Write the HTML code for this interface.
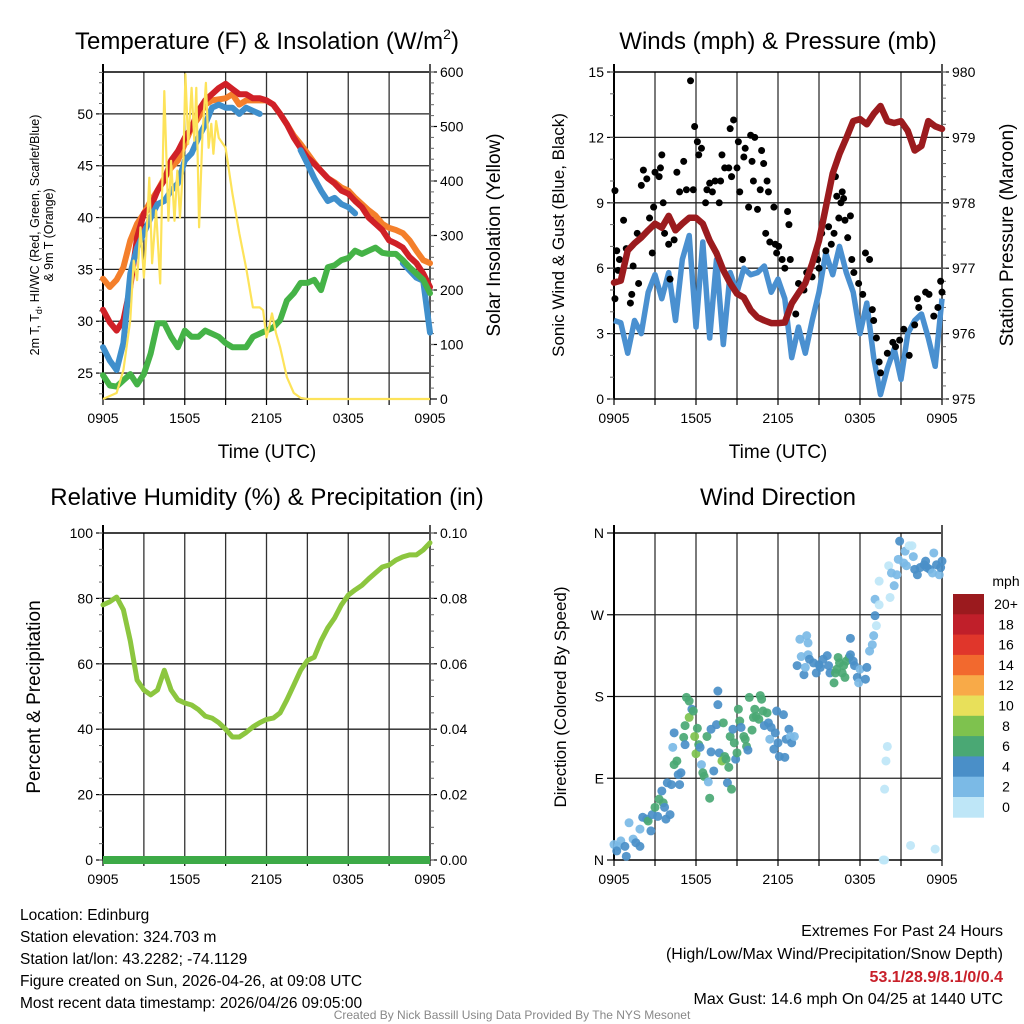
<!DOCTYPE html>
<html><head><meta charset="utf-8">
<style>
html,body{margin:0;padding:0;background:#fff;}
svg{display:block;font-family:"Liberation Sans",Arial,sans-serif;}
</style></head>
<body>
<svg id="chart" width="1024" height="1024" viewBox="0 0 1024 1024" xmlns="http://www.w3.org/2000/svg">
<rect x="0" y="0" width="1024" height="1024" fill="#fff"/>
<g id="layer"></g>
<!-- titles -->
<text x="267" y="49" font-size="24" text-anchor="middle">Temperature (F) &amp; Insolation (W/m<tspan font-size="14" dy="-10">2</tspan><tspan dy="10">)</tspan></text>
<text x="778" y="49" font-size="24" text-anchor="middle">Winds (mph) &amp; Pressure (mb)</text>
<text x="267" y="505" font-size="24" text-anchor="middle">Relative Humidity (%) &amp; Precipitation (in)</text>
<text x="778" y="505" font-size="24" text-anchor="middle">Wind Direction</text>
<!-- axis titles -->
<text x="267" y="458" font-size="19" text-anchor="middle">Time (UTC)</text>
<text x="778" y="458" font-size="19" text-anchor="middle">Time (UTC)</text>
<text transform="translate(39,235) rotate(-90)" font-size="12.5" text-anchor="middle">2m T, T<tspan font-size="9" dy="3">d</tspan><tspan dy="-3">, HI/WC (Red, Green, Scarlet/Blue)</tspan></text>
<text transform="translate(53,235) rotate(-90)" font-size="12.5" text-anchor="middle">&amp; 9m T (Orange)</text>
<text transform="translate(500,235) rotate(-90)" font-size="19" text-anchor="middle">Solar Insolation (Yellow)</text>
<text transform="translate(564,235) rotate(-90)" font-size="17" text-anchor="middle">Sonic Wind &amp; Gust (Blue, Black)</text>
<text transform="translate(1013,235) rotate(-90)" font-size="19" text-anchor="middle">Station Pressure (Maroon)</text>
<text transform="translate(40,697) rotate(-90)" font-size="19" text-anchor="middle">Percent &amp; Precipitation</text>
<text transform="translate(566,697) rotate(-90)" font-size="17" text-anchor="middle">Direction (Colored By Speed)</text>
<!-- footer text -->
<g font-size="15.5">
<text x="20" y="920">Location: Edinburg</text>
<text x="20" y="942">Station elevation: 324.703 m</text>
<text x="20" y="964">Station lat/lon: 43.2282; -74.1129</text>
<text x="20" y="986">Figure created on Sun, 2026-04-26, at 09:08 UTC</text>
<text x="20" y="1008">Most recent data timestamp: 2026/04/26 09:05:00</text>
</g>
<g font-size="16" text-anchor="end">
<text x="1003" y="936">Extremes For Past 24 Hours</text>
<text x="1003" y="959">(High/Low/Max Wind/Precipitation/Snow Depth)</text>
<text x="1003" y="982" fill="#c8202a" font-weight="bold">53.1/28.9/8.1/0/0.4</text>
<text x="1003" y="1004">Max Gust: 14.6 mph On 04/25 at 1440 UTC</text>
</g>
<text x="512" y="1019" font-size="12" fill="#888" text-anchor="middle">Created By Nick Bassill Using Data Provided By The NYS Mesonet</text>
</svg>
<script>
// ---- data (half-hourly from 0905 UTC) ----
const timeLabels = ["0905","1505","2105","0305","0905"];
const tempTicks = [25,30,35,40,45,50];
const solarTicks = [0,100,200,300,400,500,600];
const windTicks = [0,3,6,9,12,15];
const presTicks = [975,976,977,978,979,980];
const rhTicks = [0,20,40,60,80,100];
const precipTicks = ["0.00","0.02","0.04","0.06","0.08","0.10"];
const dirTicks = ["N","E","S","W","N"];
const speedLabels = ["20+","18","16","14","12","10","8","6","4","2","0"];

const temp2m = [31.1,29.9,29.1,30.1,33.3,38.1,40.4,41.0,42.6,43.6,45.5,46.4,47.7,48.7,50.3,51.3,51.9,52.5,52.9,52.4,51.9,51.9,51.5,51.5,51.3,50.9,50.0,49.0,47.7,46.7,45.8,45.2,44.5,43.8,43.3,42.6,42.3,41.6,41.0,40.0,39.4,38.8,37.8,37.5,37.1,36.2,35.6,34.6,33.3];
const temp9m = [34.1,33.3,34.0,35.2,37.8,39.4,40.4,41.6,42.6,43.8,44.8,45.5,47.1,48.7,49.6,50.9,51.3,51.4,51.5,51.9,50.9,51.3,51.3,51.3,51.3,50.9,50.0,49.0,47.9,47.1,46.2,45.3,44.5,43.8,43.4,42.9,42.6,41.9,41.3,40.7,40.2,39.4,39.0,38.8,38.5,37.8,36.8,35.9,35.6];
const windChill = [27.5,26.2,25.3,27.9,34.6,37.1,38.5,40.0,41.3,41.6,42.6,43.3,45.5,46.2,47.7,49.0,50.6,50.9,50.6,50.6,50.0,50.6,50.3,50.0,null,null,null,null,null,46.5,45.2,43.8,42.6,41.6,41.9,41.3,41.0,40.4,null,null,null,null,null,null,35.6,34.9,34.2,33.9,28.9];
const dewPoint = [24.8,23.8,23.7,24.3,24.9,23.9,24.9,26.9,29.8,29.8,28.5,27.5,29.1,28.5,28.5,29.1,28.8,28.5,27.9,27.5,27.5,27.5,28.5,28.8,29.1,29.4,30.1,32.0,32.7,33.7,33.7,34.0,33.0,35.2,35.4,35.9,36.1,36.8,36.5,36.8,37.1,36.6,36.5,36.5,35.9,35.2,34.6,34.0,32.7];
const solarHours = [0,1,1.5,2,2.25,2.5,2.75,3,3.25,3.4,3.6,3.9,4.2,4.5,4.8,5.0,5.25,5.45,5.65,5.9,6.05,6.25,6.5,6.7,6.85,7.05,7.3,7.55,7.75,7.95,8.1,8.3,8.5,9,9.5,10,10.5,11,11.5,11.75,12,12.2,12.4,12.7,13,13.5,14,14.5,15,24];
const solarVals = [0,11,53,145,254,218,315,223,327,406,249,346,212,565,327,437,327,419,333,437,596,468,571,474,571,315,487,580,461,505,450,510,479,461,377,304,241,168,168,163,113,132,157,121,95,40,11,2,0,0];
const windSpeed = [3.6,3.5,2.1,3.6,3.0,4.9,5.7,4.6,5.8,3.6,6.4,7.5,3.3,7.2,2.8,6.4,2.5,5.8,4.9,6.0,5.7,5.8,6.1,4.9,5.5,4.6,1.9,3.3,2.1,3.6,4.9,6.7,5.7,7.0,5.8,4.9,3.0,4.4,1.9,0.2,1.4,2.3,0.9,3.0,3.6,3.9,2.8,1.5,4.6];
const pressure = [976.78,976.81,977.27,977.38,977.47,977.58,977.68,977.62,977.80,977.58,977.68,977.77,977.77,977.68,977.42,977.23,976.97,976.77,976.61,976.55,976.36,976.25,976.20,976.16,976.16,976.17,976.46,976.62,976.77,977.07,977.42,977.93,978.45,978.75,978.99,979.25,979.28,979.20,979.36,979.48,979.25,979.22,979.25,979.10,978.80,978.87,979.25,979.17,979.13];
const gustHours = [0.07,0.07,0.2,0.4,0.3,0.7,0.9,1.2,1.3,1.4,1.7,1.8,2.0,2.15,2.4,2.6,2.8,2.9,3.0,3.3,3.4,3.5,3.6,3.7,4.0,4.1,4.4,4.6,4.8,5.1,5.3,5.6,5.8,5.9,6.1,6.2,6.4,6.7,6.8,7.0,7.2,7.4,7.7,7.8,7.9,8.1,8.4,8.5,8.75,8.6,9.0,9.1,9.2,9.4,9.5,9.6,9.85,10.0,10.1,10.2,10.3,10.5,10.7,10.8,10.95,11.1,11.2,11.3,11.4,11.7,11.8,11.9,12.05,12.3,12.5,12.7,12.8,12.9,13.3,13.5,13.9,14.1,14.5,14.9,15.0,15.2,15.5,15.7,15.9,16.1,16.2,16.3,16.45,16.6,16.7,16.8,16.9,17.1,17.3,17.4,17.55,17.9,18.2,18.4,18.7,18.9,19.0,19.2,19.4,19.5,20.0,20.4,20.6,20.9,21.2,21.6,22.0,22.2,22.3,22.8,23.05,23.4,23.7,23.9,24.0];
const gustVals = [9.56,4.6,6.8,6.4,5.9,8.2,6.9,4.4,4.8,6.1,7.6,5.3,9.8,10.5,10.1,8.3,6.7,8.8,10.4,10.2,10.6,11.2,9.0,7.6,7.1,5.5,7.3,10.4,9.5,10.9,9.6,14.6,9.6,12.5,11.8,11.2,11.5,9.0,9.6,9.9,9.5,10.0,9.0,10.0,11.2,10.6,10.6,12.4,12.8,10.2,10.6,11.8,9.5,6.4,11.1,11.5,8.8,12.1,10.9,10.0,12.0,8.7,9.6,11.4,10.8,7.6,10.0,9.5,7.2,8.8,7.1,6.7,7.0,6.4,6.0,8.6,8.0,6.4,3.9,5.3,5.0,5.8,5.6,6.4,6.0,7.6,6.8,7.9,7.1,7.6,10.2,9.3,8.3,9.0,9.5,9.2,8.2,7.4,8.4,6.4,5.8,5.3,4.8,6.7,6.4,4.1,3.6,2.8,1.7,1.2,2.1,2.6,2.4,2.7,3.2,2.0,3.4,4.6,4.2,4.9,4.8,3.8,4.2,5.4,4.9];
const relHum = [78,79,80.4,76.5,67,55,52,50.5,52,58,52,49,48,47.4,46,44,43.4,42,40,37.6,37.6,39,40.7,42,43,43.4,45,49,53.5,58,61,62,67,71,74,78,81,82.6,84,86,87.8,89.6,90.2,91.7,92.7,93.3,93.3,94.8,97];
const precip = [0,0,0,0,0,0,0,0,0,0,0,0,0,0,0,0,0,0,0,0,0,0,0,0,0,0,0,0,0,0,0,0,0,0,0,0,0,0,0,0,0,0,0,0,0,0,0,0,0];
const dirHours = [0.0,0.3,0.5,0.8,0.9,0.2,1.1,1.4,1.6,1.9,1.9,2.1,2.4,2.5,2.7,2.8,3.0,3.2,3.3,3.5,3.6,3.7,3.8,3.9,4.1,4.2,4.4,4.6,4.7,4.8,4.9,4.3,4.4,5.2,5.1,5.2,5.3,5.5,5.7,5.5,5.8,5.9,6.0,6.1,6.2,6.3,6.4,6.5,6.6,6.8,6.9,7.0,7.1,7.1,7.3,7.5,7.6,7.6,7.7,8.0,8.1,7.9,8.2,8.4,8.3,8.6,8.5,8.7,8.8,8.9,9.0,9.1,9.2,9.3,9.5,9.6,9.7,9.8,9.9,10.1,10.2,10.3,10.4,10.6,10.7,10.8,10.9,11.0,11.2,11.3,11.4,11.5,11.7,11.8,11.9,12.0,12.1,12.4,12.5,12.6,12.8,12.9,13.0,13.2,13.4,13.6,13.7,13.9,14.0,14.1,14.2,14.2,14.3,14.6,14.8,15.0,15.1,15.3,15.6,15.7,15.8,16.1,16.2,16.3,16.4,16.5,16.7,16.8,16.9,17.0,17.2,17.3,17.3,17.5,17.6,17.8,17.9,18.0,18.4,18.5,18.7,18.9,19.0,19.1,19.2,19.1,19.4,19.4,20.2,20.1,20.3,20.5,20.7,20.8,20.9,21.2,21.3,21.4,21.6,21.8,21.9,22.0,22.2,22.4,22.7,22.8,22.9,23.1,23.3,23.4,23.6,23.8,23.9,24.0,20.0,19.9,19.8,21.7,23.5,19.7,19.8];
const dirDeg = [17,15,21,15,4,10,41,23,19,15,34,47,45,43,32,50,58,48,67,76,63,58,45,85,50,83,105,109,94,83,96,124,140,148,135,127,179,175,166,157,164,136,117,145,127,124,105,96,92,136,86,68,144,119,98,149,186,171,118,151,114,109,111,102,85,78,136,144,129,111,118,166,153,146,136,133,125,121,179,143,157,166,158,155,181,177,164,148,162,151,133,146,122,140,164,129,114,160,113,133,144,136,129,136,214,243,224,204,212,247,239,226,221,217,206,215,212,221,225,214,206,195,206,210,223,217,206,214,201,219,223,226,244,219,214,201,195,210,199,212,230,237,247,269,258,287,281,307,289,324,316,302,314,331,351,327,340,324,346,346,334,320,314,322,325,329,322,320,316,338,325,314,322,329,125,109,78,16,12,0,0];
const dirSpeed = [3,3,3,5,5,5,3,3,5,5,3,5,5,7,5,5,7,5,7,5,7,5,5,5,5,5,7,7,5,5,5,3,5,7,7,5,7,7,5,9,7,9,9,7,7,5,3,7,7,7,3,7,5,5,5,5,5,5,5,7,7,9,7,7,5,7,7,5,7,5,7,7,7,5,7,7,7,5,7,7,7,7,7,7,7,7,7,5,7,5,3,5,5,5,5,5,5,5,5,5,5,3,5,3,5,3,3,5,3,3,3,3,5,5,5,5,5,5,5,5,5,7,7,7,7,7,7,7,7,7,7,5,5,5,5,5,3,3,5,5,3,3,3,5,1,3,1,1,1,1,3,3,3,3,5,3,3,3,1,1,3,5,5,5,5,5,5,5,3,3,5,3,5,5,1,1,1,1,1,1,1];

const speedColors = ["#9b1a1e","#c01f2a","#e0362b","#f2692e","#f8aa48","#e8e05a","#7ec24e","#4aa874","#4a8fc8","#7bbae6","#bee6f7"];

// ---- helpers ----
const NS = "http://www.w3.org/2000/svg";
const layer = document.getElementById("layer");
function mk(tag, attrs, parent) {
  const e = document.createElementNS(NS, tag);
  for (const k in attrs) e.setAttribute(k, attrs[k]);
  (parent || layer).appendChild(e);
  return e;
}
function txt(x, y, s, size, anchor, parent) {
  const t = mk("text", {x: x, y: y, "font-size": size, "text-anchor": anchor || "middle"}, parent);
  t.textContent = s;
  return t;
}
function panel(L, T, R, B) {
  return {
    L, T, R, B,
    x: h => L + (h / 24) * (R - L),
    ys: (lo, hi) => (v => B - (v - lo) / (hi - lo) * (B - T))
  };
}
function linePath(hours, vals, xf, yf) {
  let d = "", pen = false;
  for (let i = 0; i < vals.length; i++) {
    if (vals[i] === null) { pen = false; continue; }
    d += (pen ? "L" : "M") + xf(hours[i]).toFixed(1) + "," + yf(vals[i]).toFixed(1);
    pen = true;
  }
  return d;
}
function halfHours(n) { const a = []; for (let i = 0; i < n; i++) a.push(i * 0.5); return a; }

function frame(p, name, leftTicks, leftF, leftLabels, rightTicks, rightF, rightLabels, minorL, minorR) {
  const g = mk("g", {});
  
  
  for (let h = 3; h < 24; h += 3) mk("line", {x1: p.x(h), x2: p.x(h), y1: p.T, y2: p.B, stroke: "#333", "stroke-width": 1.3}, g);
  leftTicks.forEach(v => { const y = leftF(v); if (y > p.T + 1 && y < p.B - 1) mk("line", {x1: p.L, x2: p.R, y1: y, y2: y, stroke: "#222", "stroke-width": 1.3}, g); });
  mk("line", {x1: p.L, x2: p.R, y1: p.T, y2: p.T, stroke: "#000", "stroke-width": 1.5}, g);
  mk("line", {x1: p.L, x2: p.R, y1: p.B, y2: p.B, stroke: "#000", "stroke-width": 1.5}, g);
  mk("line", {x1: p.L, x2: p.L, y1: p.T - 8, y2: p.B, stroke: "#000", "stroke-width": 2}, g);
  mk("line", {x1: p.R, x2: p.R, y1: p.T - 8, y2: p.B, stroke: "#555", "stroke-width": 2}, g);
  leftTicks.forEach((v, i) => {
    const y = leftF(v);
    mk("line", {x1: p.L - 7, x2: p.L, y1: y, y2: y, stroke: "#000", "stroke-width": 1.2}, g);
    const t = txt(p.L - 10, y + 5, leftLabels[i], 14, "end", g);
    
    
  });
  if (minorL) minorL.forEach(v => { const y = leftF(v); mk("line", {x1: p.L - 4, x2: p.L, y1: y, y2: y, stroke: "#666", "stroke-width": 1}, g); });
  if (rightTicks) {
    rightTicks.forEach((v, i) => {
      const y = rightF(v);
      mk("line", {x1: p.R, x2: p.R + 7, y1: y, y2: y, stroke: "#000", "stroke-width": 1.2}, g);
      const t = txt(p.R + 10, y + 5, rightLabels[i], 14, "start", g);
      
      
    });
    if (minorR) minorR.forEach(v => { const y = rightF(v); mk("line", {x1: p.R, x2: p.R + 4, y1: y, y2: y, stroke: "#666", "stroke-width": 1}, g); });
  }
  for (let h = 0; h <= 24; h += 3) mk("line", {x1: p.x(h), x2: p.x(h), y1: p.B, y2: p.B + 6, stroke: "#000", "stroke-width": 1.2}, g);
  timeLabels.forEach((s, i) => {
    const t = txt(p.x(i * 6), p.B + 24, s, 14, "middle", g);
    
    
  });
}
function range(a, b, s) { const r = []; for (let v = a; v <= b + 1e-9; v += s) r.push(+v.toFixed(4)); return r; }

// ===== Panel 1: temperature =====
(function () {
  const p = panel(103, 72, 430, 399);
  const yT = p.ys(22.5, 54.04), yS = p.ys(0, 600);
  frame(p, "temperature", tempTicks, yT, tempTicks.map(String), solarTicks, yS, solarTicks.map(String), range(23, 54, 1), range(20, 600, 20));
  const hh = halfHours(49);
  const defs = [[temp9m, "#f47f2b", "temp-9m-line"], [temp2m, "#d02027", "temp-2m-line"], [windChill, "#3f8fcc", "windchill-line"], [dewPoint, "#45b347", "dewpoint-line"]];
  defs.forEach(d => {
    const e = mk("path", {d: linePath(hh, d[0], p.x, yT), fill: "none", stroke: d[1], "stroke-width": 6, "stroke-linejoin": "round", "stroke-linecap": "round"});
    
    
  });
  const s = mk("path", {d: linePath(solarHours, solarVals, p.x, yS), fill: "none", stroke: "#fde35a", "stroke-width": 2.2, "stroke-linejoin": "round"});
  
  
})();

// ===== Panel 2: winds & pressure =====
(function () {
  const p = panel(614, 72, 942, 399);
  const yW = p.ys(0, 15), yP = p.ys(975, 980);
  frame(p, "wind", windTicks, yW, windTicks.map(String), presTicks, yP, presTicks.map(String), range(0, 15, 1), range(975, 980, 0.2));
  const hh = halfHours(49);
  const w = mk("path", {d: linePath(hh, windSpeed, p.x, yW), fill: "none", stroke: "#4a90d0", "stroke-width": 5.5, "stroke-linejoin": "round"});
  
  
  const gg = mk("g", {});
  
  
  gustHours.forEach((h, i) => {
    const c = mk("circle", {cx: p.x(h), cy: yW(gustVals[i]), r: 3.5, fill: "#000"}, gg);
    
    
  });
  const pr = mk("path", {d: linePath(hh, pressure, p.x, yP), fill: "none", stroke: "#9b1b1e", "stroke-width": 6.5, "stroke-linejoin": "round", "stroke-linecap": "round"});
  
  
})();

// ===== Panel 3: RH & precip =====
(function () {
  const p = panel(103, 533, 430, 860);
  const yR = p.ys(0, 100);
  frame(p, "humidity", rhTicks, yR, rhTicks.map(String), rhTicks, yR, precipTicks, range(0, 100, 5), range(0, 100, 5));
  const hh = halfHours(49);
  const r = mk("path", {d: linePath(hh, relHum, p.x, yR), fill: "none", stroke: "#8cc63f", "stroke-width": 5, "stroke-linejoin": "round", "stroke-linecap": "round"});
  
  
  const yPr = p.ys(0, 0.1);
  const pc = mk("path", {d: linePath(hh, precip, p.x, yPr), fill: "none", stroke: "#3daa47", "stroke-width": 8});
  
  
})();

// ===== Panel 4: wind direction =====
(function () {
  const p = panel(614, 533, 942, 860);
  const yD = p.ys(0, 360);
  frame(p, "direction", [0, 90, 180, 270, 360], yD, dirTicks, null, null, null, null, null);
  const gg = mk("g", {});
  
  
  dirHours.forEach((h, i) => {
    const idx = Math.max(0, Math.min(10, 10 - Math.floor(dirSpeed[i] / 2)));
    const c = mk("circle", {cx: p.x(h), cy: yD(dirDeg[i]), r: 4.5, fill: speedColors[idx], "fill-opacity": 0.92}, gg);
    
    
  });
  const cb = mk("g", {});
  
  
  const t0 = txt(1006, 586, "mph", 14, "middle", cb);
  
  
  const top = 594, hgt = 20.3;
  speedLabels.forEach((s, i) => {
    const r = mk("rect", {x: 953, y: top + i * hgt, width: 31, height: hgt + 0.4, fill: speedColors[i]}, cb);
    
    
    const t = txt(1006, top + i * hgt + 15, s, 14, "middle", cb);
    
    
  });
})();
</script>
</body></html>
